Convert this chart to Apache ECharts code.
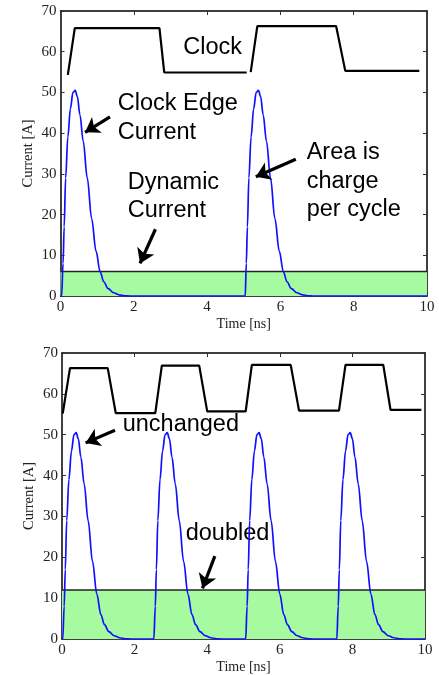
<!DOCTYPE html>
<html><head><meta charset="utf-8">
<script src="https://cdn.jsdelivr.net/npm/echarts@6/dist/echarts.min.js"></script>
<style>html,body{margin:0;padding:0;background:#fff}#c{width:439px;height:675px}</style>
</head><body><div id="c"></div>
<script>
// ---- data (time ns, current A) ----
const topPulse1 = [[0,0],[0.03,0],[0.07,8],[0.1,17],[0.14,29],[0.2,39],[0.27,46],[0.34,50],[0.4,50.5],[0.46,49],[0.53,44.5],[0.62,38],[0.73,29],[0.85,19],[0.97,11],[1.08,6],[1.18,3.5],[1.3,1.8],[1.45,0.8],[1.6,0.3],[1.75,0.05],[1.9,0]];
const topPulse2 = [[5.0,0],[5.04,0],[5.07,8],[5.1,17],[5.14,29],[5.2,39],[5.27,46],[5.34,50],[5.4,50.5],[5.46,49],[5.53,44.5],[5.62,38],[5.73,29],[5.85,19],[5.97,11],[6.08,6],[6.18,3.5],[6.3,1.8],[6.45,0.8],[6.6,0.3],[6.75,0.05],[6.9,0],[10,0]];
const topClockA = [[0.2,54.3],[0.39,65.8],[2.7,65.8],[2.83,54.9],[5.08,54.9]];
const topClockB = [[5.19,55],[5.37,66.3],[7.52,66.3],[7.77,55.3],[9.79,55.3]];
const topDynamic = [[0,6],[10,6]];

const botPulse1 = [[0,0],[0.02,0],[0.06,8],[0.09,17],[0.13,29],[0.19,39],[0.26,46],[0.33,50],[0.39,50.5],[0.45,49],[0.52,44.5],[0.61,38],[0.72,29],[0.84,19],[0.96,11],[1.07,6],[1.17,3.5],[1.29,1.8],[1.44,0.8],[1.59,0.3],[1.74,0.05],[1.89,0]];
const botPulse2 = [[2.53,0],[2.57,8],[2.6,17],[2.64,29],[2.7,39],[2.77,46],[2.84,50],[2.9,50.5],[2.96,49],[3.03,44.5],[3.12,38],[3.23,29],[3.35,19],[3.47,11],[3.58,6],[3.68,3.5],[3.8,1.8],[3.95,0.8],[4.1,0.3],[4.25,0.05],[4.4,0]];
const botPulse3 = [[5.06,0],[5.1,8],[5.13,17],[5.17,29],[5.23,39],[5.3,46],[5.37,50],[5.43,50.5],[5.49,49],[5.56,44.5],[5.65,38],[5.76,29],[5.88,19],[6.0,11],[6.11,6],[6.21,3.5],[6.33,1.8],[6.48,0.8],[6.63,0.3],[6.78,0.05],[6.93,0]];
const botPulse4 = [[7.57,0],[7.61,8],[7.64,17],[7.68,29],[7.74,39],[7.81,46],[7.88,50],[7.94,50.5],[8.0,49],[8.07,44.5],[8.16,38],[8.27,29],[8.39,19],[8.51,11],[8.62,6],[8.72,3.5],[8.84,1.8],[8.99,0.8],[9.14,0.3],[9.29,0.05],[9.44,0],[10,0]];
const botClock = [[0.02,55.2],[0.22,66.3],[1.26,66.3],[1.48,55.3],[2.57,55.3],[2.75,66.9],[3.78,66.9],[4.0,55.7],[5.06,55.7],[5.23,67.1],[6.3,67.1],[6.53,55.9],[7.63,55.9],[7.81,67.1],[8.85,67.1],[9.05,56.1],[9.9,56.1]];
const botDynamic = [[0,12],[10,12]];

const topArrows = [[[1.35,44.0],[0.67,40.2]],[[6.42,33.6],[5.33,29.3]],[[2.59,16.4],[2.17,8.0]]];
const botArrows = [[[1.46,51.1],[0.65,48.0]],[[4.21,20.3],[3.87,12.4]]];

const xTicks = {min:0,max:10,interval:2};
const yTicks = {min:0,max:70,interval:10};
const xName = 'Time [ns]';
const yName = 'Current [A]';

// ---- styling ----
const SERIF = '"Liberation Serif","Times New Roman",serif';
const SANS = '"Liberation Sans",Arial,sans-serif';
const GREEN = '#a6fba0';
const BLUE = '#1010ff';

function xAxes(gi){
  return [
    {type:'value',gridIndex:gi,position:'bottom',...xTicks,name:xName,nameLocation:'middle',nameGap:21,nameMoveOverlap:false,
     nameTextStyle:{fontFamily:SERIF,fontSize:14,color:'#222'},
     axisLine:{show:true,onZero:false,lineStyle:{color:'#000',width:1.5}},
     axisTick:{show:true,inside:true,length:4,lineStyle:{color:'#333'}},
     axisLabel:{fontFamily:SERIF,fontSize:15,color:'#222',margin:4},splitLine:{show:false}},
    {type:'value',gridIndex:gi,position:'top',...xTicks,
     axisLine:{show:true,onZero:false,lineStyle:{color:'#000',width:1.5}},
     axisTick:{show:true,inside:true,length:4,lineStyle:{color:'#333'}},
     axisLabel:{show:false},splitLine:{show:false}}
  ];
}
function yAxes(gi){
  return [
    {type:'value',gridIndex:gi,position:'left',...yTicks,name:yName,nameLocation:'middle',nameGap:25,nameMoveOverlap:false,
     nameTextStyle:{fontFamily:SERIF,fontSize:14.5,color:'#222'},
     axisLine:{show:true,onZero:false,lineStyle:{color:'#000',width:1.5}},
     axisTick:{show:true,inside:true,length:4,lineStyle:{color:'#333'}},
     axisLabel:{fontFamily:SERIF,fontSize:15,color:'#222',margin:4},splitLine:{show:false}},
    {type:'value',gridIndex:gi,position:'right',...yTicks,
     axisLine:{show:true,onZero:false,lineStyle:{color:'#000',width:1.5}},
     axisTick:{show:true,inside:true,length:4,lineStyle:{color:'#333'}},
     axisLabel:{show:false},splitLine:{show:false}}
  ];
}
function arrowLine(arrows){
  return {silent:true,symbol:['none','arrow'],symbolSize:14,label:{show:false},animation:false,
    lineStyle:{color:'#000',width:3.2,type:'solid'},
    data:arrows.map(a=>[{coord:a[0]},{coord:a[1]}])};
}
function lineSeries(xi,yi,data,color,width,extra){
  return Object.assign({type:'line',xAxisIndex:xi,yAxisIndex:yi,data:data,showSymbol:false,symbol:'none',
    lineStyle:{color:color,width:width},animation:false,silent:true},extra||{});
}

const chart = echarts.init(document.getElementById('c'),null,{renderer:'canvas'});
const texts = [
  ['Clock',183.3,47.6],['Clock Edge',117.7,103.4],['Current',117.7,132.4],
  ['Dynamic',127.7,182.4],['Current',127.7,211],
  ['Area is',306.7,152.7],['charge',306.7,181.7],['per cycle',306.7,210],
  ['unchanged',122.7,425],['doubled',185.7,533.4]
];
chart.setOption({
  animation:false,
  grid:[{left:60.5,top:11,width:366.5,height:285},{left:62,top:353,width:363,height:286}],
  xAxis:[...xAxes(0),...xAxes(1)],
  yAxis:[...yAxes(0),...yAxes(1)],
  series:[
    lineSeries(0,0,topDynamic,'#222',1.5,{areaStyle:{color:GREEN,opacity:1,origin:'start'},markLine:arrowLine(topArrows)}),
    lineSeries(0,0,topPulse1.concat(topPulse2),BLUE,1.7,{smooth:0.35,smoothMonotone:'x'}),
    lineSeries(0,0,topClockA,'#000',2.2),
    lineSeries(0,0,topClockB,'#000',2.2),
    lineSeries(2,2,botDynamic,'#222',1.5,{areaStyle:{color:GREEN,opacity:1,origin:'start'},markLine:arrowLine(botArrows)}),
    lineSeries(2,2,botPulse1.concat(botPulse2,botPulse3,botPulse4),BLUE,1.7,{smooth:0.35,smoothMonotone:'x'}),
    lineSeries(2,2,botClock,'#000',2.2)
  ],
  graphic:texts.map(t=>({type:'text',x:t[1],y:t[2],silent:true,
    style:{text:t[0],fill:'#000',font:'23.5px '+SANS,textVerticalAlign:'middle',verticalAlign:'middle',textAlign:'left'}}))
});
</script></body></html>
